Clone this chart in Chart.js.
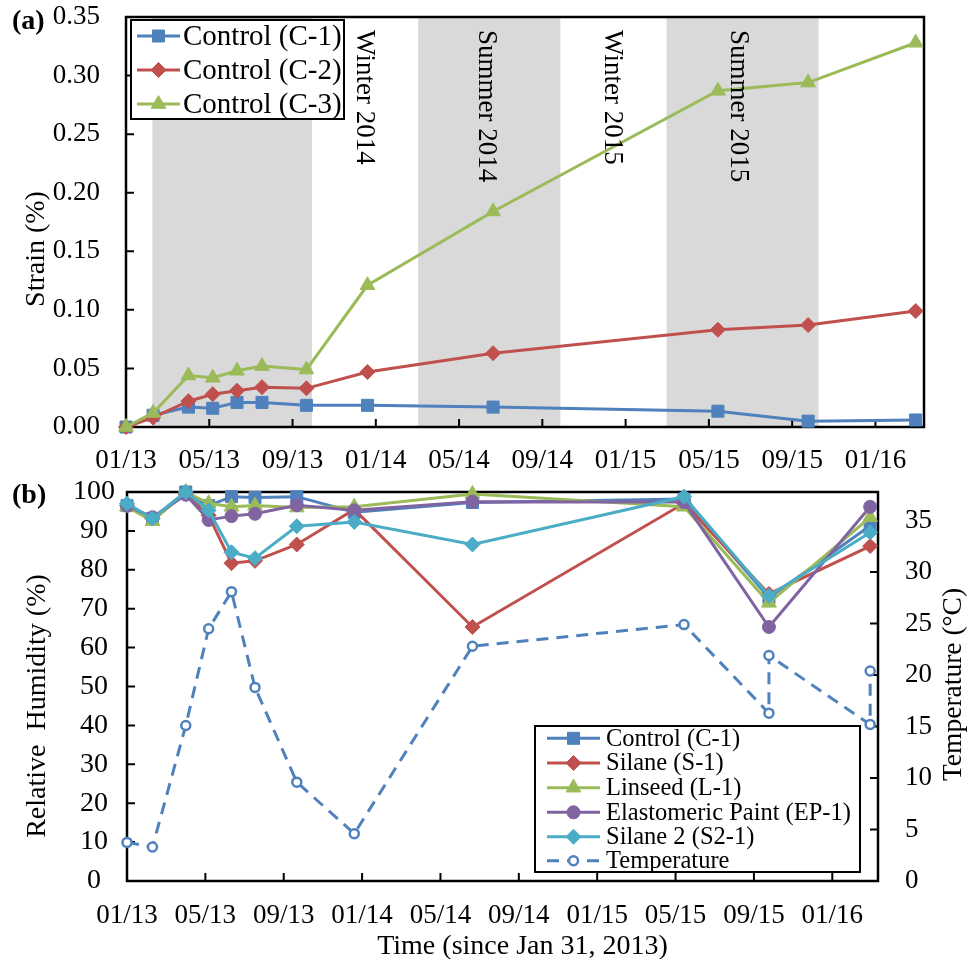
<!DOCTYPE html>
<html>
<head>
<meta charset="utf-8">
<script src="https://cdn.jsdelivr.net/npm/chart.js@4.4.1/dist/chart.umd.min.js"></script>
<style>
  html, body { margin: 0; padding: 0; background: #fff; }
  #wrap { position: relative; width: 968px; height: 959px; }
  canvas { position: absolute; left: 0; }
  #strainChart { top: 0; }
  #rhChart { top: 470px; }
</style>
</head>
<body>
<div id="wrap">
  <canvas id="strainChart" width="968" height="470"></canvas>
  <canvas id="rhChart" width="968" height="489"></canvas>
</div>
<script>
// Días desde el 31/01/2013 de cada visita
const visitDays = [0, 39, 90, 125, 160, 196, 260, 348, 529, 853, 983, 1138];

// (a) Deformación (%)
const strainC1 = [0, 0.010, 0.017, 0.016, 0.021, 0.021, 0.0185, 0.0185, 0.017, 0.0135, 0.005, 0.006];
const strainC2 = [0, 0.008, 0.022, 0.028, 0.031, 0.034, 0.033, 0.047, 0.063, 0.083, 0.087, 0.099];
const strainC3 = [0, 0.012, 0.044, 0.042, 0.048, 0.052, 0.049, 0.121, 0.184, 0.287, 0.294, 0.328];

// (b) Humedad relativa (%)
const rhControl = [96.5, 93.2, 100, 96.5, 98.8, 98.6, 98.8, 94.8, 97.3, 98.2, 72.8, 91.3];
const rhSilane = [96.5, 93.2, 99.5, 94.0, 81.7, 82.3, 86.5, 95.5, 65.3, 97.1, 73.8, 86.1];
const rhLinseed = [96.2, 92.5, 100, 97.1, 96.2, 96.5, 96.0, 96.2, 99.5, 96.2, 71.5, 93.5];
const rhElastomeric = [96.5, 93.5, 99.3, 92.8, 93.8, 94.4, 96.6, 95.3, 97.5, 97.4, 65.3, 96.2];
const rhSilane2 = [97.0, 93.2, 100, 95.3, 84.5, 83.0, 91.2, 92.3, 86.5, 98.8, 73.3, 89.6];

// Temperatura (°C), con dos lecturas en las dos últimas visitas
const tempDays = [0, 39, 90, 125, 160, 196, 260, 348, 529, 853, 983, 983, 1138, 1138];
const temperature = [3.75, 3.3, 15.1, 24.5, 28.1, 18.8, 9.6, 4.6, 22.8, 24.9, 16.3, 21.9, 15.2, 20.4];

// Ejes
const tickDays = [0, 120, 240, 360, 480, 600, 720, 840, 960, 1080];
const tickLabels = ['01/13', '05/13', '09/13', '01/14', '05/14', '09/14', '01/15', '05/15', '09/15', '01/16'];
const strainTicks = [0, 0.05, 0.10, 0.15, 0.20, 0.25, 0.30, 0.35];
const rhTicks = [0, 10, 20, 30, 40, 50, 60, 70, 80, 90, 100];
const tempTicks = [0, 5, 10, 15, 20, 25, 30, 35];

// Estaciones (bandas grises) y sus rótulos
const bandStart = [38, 421, 779];
const bandEnd = [268, 626, 998];
const seasonNames = ['Winter 2014', 'Summer 2014', 'Winter 2015', 'Summer 2015'];
const seasonDays = [333, 508, 691, 872];

const SERIF = '"Liberation Serif", "Times New Roman", serif';
const BLUE = '#4F81BD', RED = '#C0504D', GREEN = '#9BBB59', PURPLE = '#8064A2', TEAL = '#4BACC6';

const pts = (xs, ys) => xs.map((x, i) => ({ x: x, y: ys[i] }));

function serie(label, ys, color, style, radius, order) {
    return {
        label: label,
        data: pts(visitDays, ys),
        borderColor: color,
        backgroundColor: color,
        borderWidth: 3,
        pointStyle: style,
        pointRadius: radius,
        pointBorderWidth: 1,
        pointBackgroundColor: color,
        pointBorderColor: color,
        tension: 0,
        clip: false,
        order: order
    };
}

// Quita el relleno que Chart.js reserva para las etiquetas (ancho/alto fijos)
function fixSize(w, h) {
    return s => {
        if (w !== null) s.width = w;
        if (h !== null) s.height = h;
        s.paddingTop = 0; s.paddingBottom = 0;
        s.paddingLeft = 0; s.paddingRight = 0;
    };
}

// Marco del área de trazado y marcas hacia dentro
function drawFrame(chart) {
    const { ctx, chartArea: a, scales } = chart;
    ctx.save();
    ctx.strokeStyle = '#000';
    ctx.lineWidth = 2.5;
    ctx.strokeRect(a.left, a.top, a.right - a.left, a.bottom - a.top);
    ctx.lineWidth = 2;
    ctx.beginPath();
    scales.x.ticks.forEach(t => {
        const px = scales.x.getPixelForValue(t.value);
        ctx.moveTo(px, a.bottom); ctx.lineTo(px, a.bottom - 8);
    });
    scales.y.ticks.forEach(t => {
        const py = scales.y.getPixelForValue(t.value);
        ctx.moveTo(a.left, py); ctx.lineTo(a.left + 8, py);
    });
    if (scales.y2) {
        scales.y2.ticks.forEach(t => {
            const py = scales.y2.getPixelForValue(t.value);
            ctx.moveTo(a.right, py); ctx.lineTo(a.right - 8, py);
        });
    }
    ctx.stroke();
    ctx.restore();
}

function drawLegend(chart, box, rows, x0, x1, textX, size) {
    const ctx = chart.ctx;
    ctx.save();
    ctx.fillStyle = '#fff';
    ctx.fillRect(box[0], box[1], box[2] - box[0], box[3] - box[1]);
    ctx.strokeStyle = '#000';
    ctx.lineWidth = 2;
    ctx.strokeRect(box[0], box[1], box[2] - box[0], box[3] - box[1]);
    chart.data.datasets.forEach((ds, i) => {
        const y = rows[i];
        ctx.strokeStyle = ds.borderColor;
        ctx.lineWidth = ds.borderWidth;
        ctx.setLineDash(ds.borderDash || []);
        ctx.beginPath();
        ctx.moveTo(x0, y); ctx.lineTo(x1, y);
        ctx.stroke();
        ctx.setLineDash([]);
        ctx.fillStyle = ds.pointBackgroundColor;
        ctx.strokeStyle = ds.pointBorderColor;
        ctx.lineWidth = ds.pointBorderWidth;
        Chart.helpers.drawPoint(ctx, {
            pointStyle: ds.pointStyle, radius: ds.pointRadius,
            borderWidth: ds.pointBorderWidth, rotation: 0
        }, (x0 + x1) / 2, y);
        ctx.fillStyle = '#000';
        ctx.font = size + 'px ' + SERIF;
        ctx.textAlign = 'left';
        ctx.textBaseline = 'middle';
        ctx.fillText(ds.label, textX, y + 1);
    });
    ctx.restore();
}

function rotatedText(ctx, text, x, y, angle, size) {
    ctx.save();
    ctx.translate(x, y);
    ctx.rotate(angle);
    ctx.font = size + 'px ' + SERIF;
    ctx.fillStyle = '#000';
    ctx.textAlign = 'center';
    ctx.textBaseline = 'alphabetic';
    ctx.fillText(text, 0, 0);
    ctx.restore();
}

const tickFont = { family: SERIF, size: 27 };

function xScale(height, padding) {
    return {
        type: 'linear', min: 0, max: 1150,
        afterBuildTicks: s => { s.ticks = tickDays.map(v => ({ value: v })); },
        afterFit: fixSize(null, height),
        grid: { display: false, drawTicks: false },
        border: { display: false },
        ticks: {
            font: tickFont, color: '#000', padding: padding, maxRotation: 0, autoSkip: false,
            callback: v => tickLabels[tickDays.indexOf(v)]
        }
    };
}

// ---------- (a) Deformación ----------
const strainPlugin = {
    id: 'strainDeco',
    beforeDatasetsDraw(chart) {
        const { ctx, chartArea: a, scales } = chart;
        ctx.save();
        ctx.fillStyle = '#D9D9D9';
        bandStart.forEach((d, i) => {
            const x0 = scales.x.getPixelForValue(d);
            const x1 = scales.x.getPixelForValue(bandEnd[i]);
            ctx.fillRect(x0, a.top, x1 - x0, a.bottom - a.top);
        });
        ctx.restore();
        drawFrame(chart);
    },
    afterDatasetsDraw(chart) {
        const { ctx, scales } = chart;
        ctx.save();
        ctx.font = '27px ' + SERIF;
        ctx.fillStyle = '#000';
        seasonNames.forEach((name, i) => {
            ctx.save();
            ctx.translate(scales.x.getPixelForValue(seasonDays[i]), 30);
            ctx.rotate(Math.PI / 2);
            ctx.textAlign = 'left';
            ctx.textBaseline = 'alphabetic';
            ctx.fillText(name, 0, 0);
            ctx.restore();
        });
        ctx.restore();
        drawLegend(chart, [131, 20, 344, 119], [36, 70, 104], 137, 180, 183, 29);
    },
    afterDraw(chart) {
        const ctx = chart.ctx;
        ctx.save();
        ctx.font = 'bold 28px ' + SERIF;
        ctx.fillStyle = '#000';
        ctx.textAlign = 'left';
        ctx.textBaseline = 'middle';
        ctx.fillText('(a)', 12, 22);
        ctx.restore();
        rotatedText(ctx, 'Strain (%)', 43.5, 249, -Math.PI / 2, 28);
    }
};

new Chart(document.getElementById('strainChart'), {
    type: 'line',
    data: {
        datasets: [
            serie('Control (C-1)', strainC1, BLUE, 'rect', 8.5, 3),
            serie('Control (C-2)', strainC2, RED, 'rectRot', 7.5, 2),
            serie('Control (C-3)', strainC3, GREEN, 'triangle', 8.5, 1)
        ]
    },
    options: {
        responsive: false,
        animation: false,
        devicePixelRatio: 1,
        layout: { padding: { top: 17, right: 44, left: 0, bottom: 0 } },
        plugins: { legend: { display: false }, tooltip: { enabled: false } },
        scales: {
            x: xScale(43, 18),
            y: {
                min: 0, max: 0.35,
                afterBuildTicks: s => { s.ticks = strainTicks.map(v => ({ value: v })); },
                afterFit: fixSize(126, null),
                grid: { display: false, drawTicks: false },
                border: { display: false },
                ticks: { font: tickFont, color: '#000', padding: 26, callback: v => v.toFixed(2) }
            }
        }
    },
    plugins: [strainPlugin]
});

// ---------- (b) Humedad relativa y temperatura ----------
const rhPlugin = {
    id: 'rhDeco',
    beforeDatasetsDraw(chart) {
        drawFrame(chart);
    },
    afterDatasetsDraw(chart) {
        drawLegend(chart, [535, 256, 860, 402], [268.3, 293, 317.7, 342.3, 366.7, 390.7], 547, 600, 606, 24.5);
    },
    afterDraw(chart) {
        const ctx = chart.ctx;
        ctx.save();
        ctx.font = 'bold 28px ' + SERIF;
        ctx.fillStyle = '#000';
        ctx.textAlign = 'left';
        ctx.textBaseline = 'middle';
        ctx.fillText('(b)', 12, 26);
        ctx.restore();
        rotatedText(ctx, 'Relative  Humidity (%)', 45, 236, -Math.PI / 2, 28);
        rotatedText(ctx, 'Temperature (°C)', 961, 214.5, -Math.PI / 2, 27.5);
        rotatedText(ctx, 'Time (since Jan 31, 2013)', 522.5, 483.5, 0, 28);
    }
};

const tempSerie = {
    label: 'Temperature',
    data: pts(tempDays, temperature),
    yAxisID: 'y2',
    borderColor: BLUE,
    backgroundColor: '#fff',
    borderWidth: 3,
    borderDash: [12, 8],
    pointStyle: 'circle',
    pointRadius: 4.5,
    pointBorderWidth: 2.5,
    pointBackgroundColor: '#fff',
    pointBorderColor: BLUE,
    tension: 0,
    clip: false,
    order: 1
};

new Chart(document.getElementById('rhChart'), {
    type: 'line',
    data: {
        datasets: [
            serie('Control (C-1)', rhControl, BLUE, 'rect', 8.5, 6),
            serie('Silane (S-1)', rhSilane, RED, 'rectRot', 7.5, 5),
            serie('Linseed (L-1)', rhLinseed, GREEN, 'triangle', 8.5, 4),
            serie('Elastomeric Paint (EP-1)', rhElastomeric, PURPLE, 'circle', 6.5, 3),
            serie('Silane 2 (S2-1)', rhSilane2, TEAL, 'rectRot', 7.5, 2),
            tempSerie
        ]
    },
    options: {
        responsive: false,
        animation: false,
        devicePixelRatio: 1,
        layout: { padding: { top: 22, right: 0, left: 0, bottom: 0 } },
        plugins: { legend: { display: false }, tooltip: { enabled: false } },
        scales: {
            x: xScale(78, 19),
            y: {
                position: 'left',
                min: 0, max: 100,
                afterBuildTicks: s => { s.ticks = rhTicks.map(v => ({ value: v })); },
                afterFit: fixSize(127, null),
                grid: { display: false, drawTicks: false },
                border: { display: false },
                ticks: { font: { family: SERIF, size: 28 }, color: '#000', padding: 12, crossAlign: 'center' }
            },
            y2: {
                position: 'right',
                min: 0, max: 37.78,
                afterBuildTicks: s => { s.ticks = tempTicks.map(v => ({ value: v })); },
                afterFit: fixSize(90, null),
                grid: { display: false, drawTicks: false },
                border: { display: false },
                ticks: { font: tickFont, color: '#000', padding: 27 }
            }
        }
    },
    plugins: [rhPlugin]
});
</script>
</body>
</html>
